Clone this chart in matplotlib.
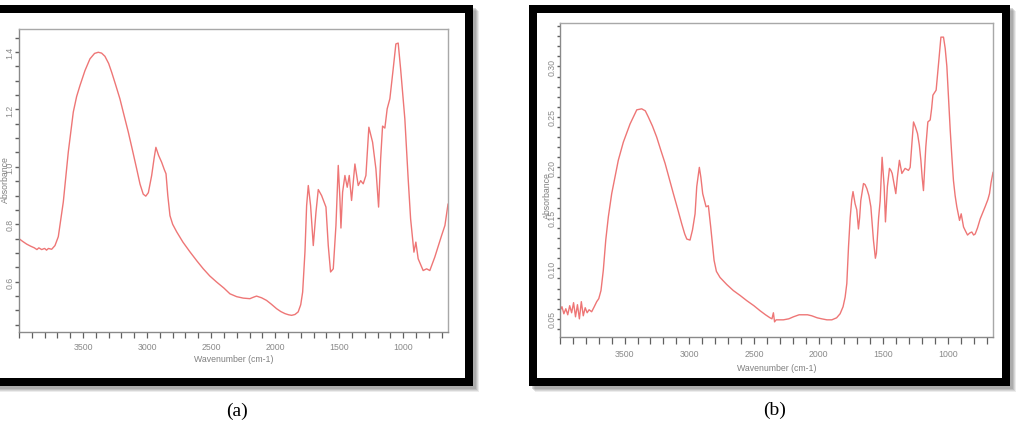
import matplotlib
matplotlib.use("Agg")
import matplotlib.pyplot as plt
from matplotlib.patches import Rectangle
from matplotlib.ticker import MultipleLocator, FixedLocator, FixedFormatter

# ---------------- data ----------------
wn_a = [4000, 3970, 3940, 3910, 3880, 3860, 3845, 3823, 3800, 3785, 3770, 3745, 3719, 3693,
        3654, 3615, 3576, 3550, 3524, 3485, 3446, 3410, 3381, 3355, 3329, 3300, 3276, 3245,
        3212, 3180, 3147, 3115, 3081, 3055, 3030, 3010, 2990, 2964, 2945, 2931, 2910, 2886,
        2865, 2852, 2838, 2821, 2800, 2769, 2720, 2665, 2610, 2561, 2510, 2457, 2400, 2353,
        2300, 2249, 2197, 2170, 2145, 2105, 2067, 2030, 1988, 1955, 1923, 1895, 1871, 1845,
        1820, 1800, 1785, 1767, 1754, 1741, 1723, 1702, 1681, 1663, 1637, 1603, 1585, 1567,
        1546, 1525, 1507, 1494, 1486, 1473, 1455, 1437, 1421, 1403, 1377, 1351, 1332, 1312,
        1291, 1268, 1239, 1213, 1192, 1176, 1161, 1143, 1125, 1104, 1078, 1057, 1039, 1020,
        987, 961, 942, 916, 901, 883, 844, 817, 792, 753, 700, 674, 650]
abs_a = [0.750, 0.740, 0.731, 0.724, 0.718, 0.712, 0.718, 0.712, 0.716, 0.710, 0.716, 0.713, 0.726, 0.757,
         0.878, 1.052, 1.191, 1.245, 1.283, 1.335, 1.376, 1.395, 1.399, 1.396, 1.385, 1.360, 1.329, 1.285,
         1.237, 1.180, 1.122, 1.060, 0.993, 0.940, 0.905, 0.898, 0.910, 0.970, 1.030, 1.068, 1.040, 1.016,
         0.990, 0.976, 0.900, 0.830, 0.800, 0.774, 0.738, 0.704, 0.672, 0.645, 0.620, 0.599, 0.578, 0.558,
         0.548, 0.543, 0.541, 0.546, 0.550, 0.544, 0.535, 0.522, 0.506, 0.496, 0.489, 0.485, 0.483, 0.486,
         0.495, 0.520, 0.564, 0.704, 0.865, 0.935, 0.865, 0.726, 0.842, 0.921, 0.900, 0.860, 0.726, 0.634,
         0.645, 0.796, 1.005, 0.889, 0.787, 0.912, 0.970, 0.929, 0.970, 0.883, 1.010, 0.935, 0.952, 0.941,
         0.970, 1.138, 1.086, 0.993, 0.860, 1.028, 1.142, 1.135, 1.202, 1.237, 1.341, 1.428, 1.431, 1.341,
         1.167, 0.958, 0.819, 0.703, 0.738, 0.680, 0.639, 0.645, 0.639, 0.686, 0.761, 0.796, 0.870]

wn_b = [4000, 3985, 3970, 3955, 3940, 3925, 3910, 3895, 3880, 3865, 3850, 3835, 3820, 3805,
        3790, 3775, 3755, 3735, 3716, 3700, 3683, 3665, 3646, 3626, 3600, 3574, 3549, 3510,
        3458, 3406, 3368, 3340, 3317, 3285, 3252, 3220, 3187, 3155, 3123, 3090, 3058, 3035,
        3019, 2994, 2975, 2955, 2942, 2922, 2910, 2896, 2870, 2852, 2834, 2808, 2790, 2762,
        2710, 2659, 2605, 2555, 2500, 2452, 2410, 2375, 2360, 2349, 2340, 2328, 2272, 2230,
        2194, 2150, 2117, 2085, 2052, 2010, 1975, 1935, 1897, 1860, 1833, 1810, 1794, 1781,
        1768, 1755, 1743, 1733, 1717, 1704, 1691, 1682, 1673, 1652, 1640, 1626, 1610, 1595,
        1585, 1575, 1560, 1552, 1544, 1535, 1523, 1508, 1492, 1482, 1467, 1451, 1440, 1430,
        1420, 1402, 1390, 1374, 1355, 1330, 1304, 1291, 1278, 1265, 1250, 1234, 1220, 1208,
        1198, 1188, 1178, 1170, 1154, 1136, 1125, 1115, 1090, 1080, 1069, 1053, 1033, 1020,
        1007, 995, 981, 968, 956, 943, 930, 909, 896, 878, 863, 847, 830, 814, 800, 788, 770,
        749, 730, 711, 690, 677, 665, 650]
abs_b = [0.058, 0.062, 0.055, 0.060, 0.054, 0.063, 0.056, 0.066, 0.052, 0.064, 0.050, 0.067, 0.053, 0.061,
         0.056, 0.059, 0.057, 0.062, 0.067, 0.070, 0.078, 0.098, 0.128, 0.151, 0.174, 0.191, 0.207, 0.225,
         0.243, 0.257, 0.258, 0.256, 0.250, 0.241, 0.230, 0.217, 0.204, 0.189, 0.174, 0.159, 0.144, 0.134,
         0.129, 0.128, 0.138, 0.154, 0.181, 0.200, 0.190, 0.174, 0.161, 0.162, 0.141, 0.108, 0.097, 0.091,
         0.084, 0.078, 0.073, 0.068, 0.063, 0.058, 0.054, 0.051, 0.050, 0.056, 0.047, 0.049, 0.049, 0.050,
         0.052, 0.054, 0.054, 0.054, 0.053, 0.051, 0.050, 0.049, 0.049, 0.051, 0.055, 0.062, 0.0715, 0.085,
         0.121, 0.150, 0.168, 0.176, 0.164, 0.158, 0.139, 0.150, 0.167, 0.184, 0.183, 0.179, 0.172, 0.161,
         0.145, 0.128, 0.110, 0.115, 0.131, 0.150, 0.167, 0.210, 0.181, 0.146, 0.181, 0.199, 0.197, 0.194,
         0.187, 0.174, 0.190, 0.207, 0.194, 0.199, 0.197, 0.200, 0.222, 0.245, 0.240, 0.2335, 0.222, 0.207,
         0.190, 0.177, 0.200, 0.220, 0.245, 0.247, 0.258, 0.2715, 0.2765, 0.290, 0.306, 0.329, 0.329, 0.318,
         0.300, 0.270, 0.237, 0.210, 0.187, 0.172, 0.161, 0.1475, 0.154, 0.141, 0.137, 0.133, 0.135, 0.136, 0.133, 0.134, 0.140,
         0.149, 0.155, 0.161, 0.168, 0.174, 0.185, 0.195]

x_major = [3500, 3000, 2500, 2000, 1500, 1000]
x_labels = ["3500", "3000", "2500", "2000", "1500", "1000"]
ya_major = [0.6, 0.8, 1.0, 1.2, 1.4]
ya_labels = ["0.6", "0.8", "1.0", "1.2", "1.4"]
yb_major = [0.05, 0.10, 0.15, 0.20, 0.25, 0.30]
yb_labels = ["0.05", "0.10", "0.15", "0.20", "0.25", "0.30"]
captions = ["(a)", "(b)"]
x_title = "Wavenumber (cm-1)"
y_title = "Absorbance"

# ---------------- figure ----------------
W, H = 1024, 431
fig = plt.figure(figsize=(W / 100, H / 100), dpi=100)
fig.patch.set_facecolor("white")


def fx(px):
    return px / W


def fy(py):
    return 1 - py / H


def rect(x0, y0, x1, y1, **kw):
    r = Rectangle((fx(x0), fy(y1)), fx(x1) - fx(x0), fy(y0) - fy(y1),
                  transform=fig.transFigure, **kw)
    fig.add_artist(r)


# frames with soft shadows
for (x0, x1) in [(-14, 473), (529, 1010)]:
    for d, a in [(6, 0.15), (5, 0.2), (4, 0.25), (3, 0.3)]:
        rect(x0 + d, 6 + d, x1 + d, 387 + d, facecolor="#808080", edgecolor="none",
             alpha=a, zorder=-5)
    rect(x0, 6, x1, 387, facecolor="black", edgecolor="none", zorder=-4)
    rect(x0 + 8, 14, x1 - 8, 379, facecolor="white", edgecolor="none", zorder=-3)

line_color = "#ee7676"
tick_font = dict(family="Liberation Sans", size=6.3, color="#8a8a8a")


def style(ax, ylim, yminor, ymaj, ylab, ytick_len):
    ax.set_xlim(4000, 650)
    ax.set_ylim(*ylim)
    ax.set_facecolor("white")
    for s in ax.spines.values():
        s.set_color("#a8a8a8")
        s.set_linewidth(1.0)
    ax.spines["left"].set_color("#8a8a8a")
    ax.spines["bottom"].set_color("#8a8a8a")
    ax.xaxis.set_major_locator(FixedLocator(x_major))
    ax.xaxis.set_major_formatter(FixedFormatter(x_labels))
    ax.xaxis.set_minor_locator(MultipleLocator(100))
    ax.yaxis.set_major_locator(FixedLocator(ymaj))
    ax.yaxis.set_major_formatter(FixedFormatter(ylab))
    ax.yaxis.set_minor_locator(MultipleLocator(yminor))
    ax.tick_params(axis="x", which="both", direction="out", length=4, width=0.9,
                   color="#606060", pad=3)
    ax.tick_params(axis="y", which="both", direction="out", length=ytick_len, width=1.0,
                   color="#606060", pad=0.5)
    for lab in ax.get_xticklabels():
        lab.set_fontfamily(tick_font["family"])
        lab.set_fontsize(tick_font["size"])
        lab.set_color(tick_font["color"])
    for lab in ax.get_yticklabels():
        lab.set_fontfamily(tick_font["family"])
        lab.set_fontsize(tick_font["size"])
        lab.set_color(tick_font["color"])
        lab.set_rotation(90)
        lab.set_va("center")


# panel (a)
ax_a = fig.add_axes([fx(19), fy(333), fx(448) - fx(19), fy(30) - fy(333)])
ax_a.plot(wn_a, abs_a, color=line_color, lw=1.0)
style(ax_a, (0.425, 1.48), 0.05, ya_major, ya_labels, 3)

# panel (b)
ax_b = fig.add_axes([fx(560), fy(338), fx(993) - fx(560), fy(24) - fy(338)])
ax_b.plot(wn_b, abs_b, color=line_color, lw=1.0)
style(ax_b, (0.032, 0.343), 0.01, yb_major, yb_labels, 2)
ax_b.tick_params(axis="x", which="both", length=5, pad=4)

# axis titles
lab_kw = dict(fontfamily="Liberation Sans", fontsize=6.3, color="#808080", ha="center", va="center")
fig.text(fx(234), fy(360), x_title, **lab_kw)
fig.text(fx(777), fy(369), x_title, **lab_kw)
fig.text(fx(5), fy(180), y_title, rotation=90, **lab_kw)
fig.text(fx(547), fy(196), y_title, rotation=90, **lab_kw)

# captions
cap_kw = dict(fontfamily="Liberation Serif", fontsize=14, color="black", ha="center", va="center")
fig.text(fx(237), fy(411), captions[0], **cap_kw)
fig.text(fx(775), fy(410), captions[1], **cap_kw)

fig.savefig("out.png", dpi=100, facecolor="white")
